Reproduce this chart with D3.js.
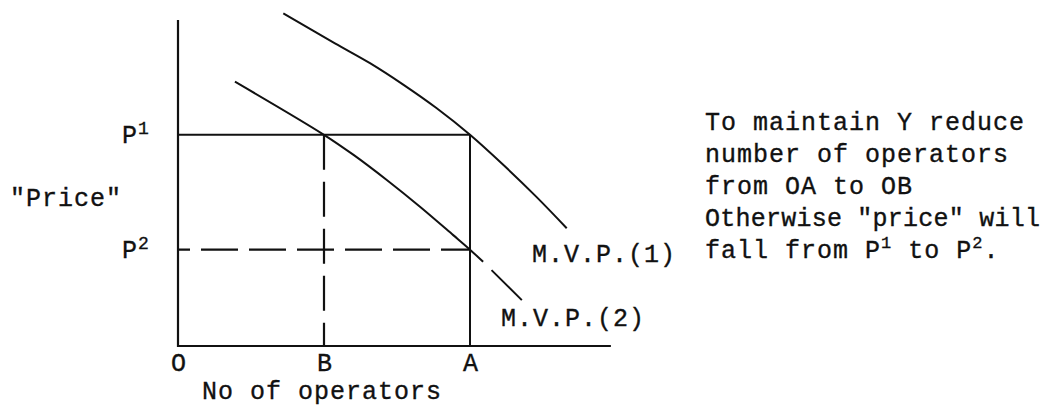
<!DOCTYPE html>
<html>
<head>
<meta charset="utf-8">
<script src="https://cdn.jsdelivr.net/npm/d3@7"></script>
<style>
  html, body { margin: 0; padding: 0; background: #fff; }
  svg { display: block; }
  text { font-family: "Liberation Mono", "Courier New", monospace; fill: #111; stroke: #111; stroke-width: 0.35px; }
</style>
</head>
<body>
<svg id="chart" width="1047" height="409"></svg>
<script>
// ---- data (abstract units) ----
const xTickLabels = ["O", "B", "A"];
const xTickValues = [0, 4, 8];
const xAxisMax = 11.86;
const yAxisMax = 9.88;
const priceLevels = [6.4, 2.92];
const priceSups = ["1", "2"];
const mvp1X = [2.885, 4.30, 5.26, 6.17, 7.08, 8.0, 8.91, 9.82, 10.65];
const mvp1Y = [10.08, 9.17, 8.57, 7.92, 7.21, 6.40, 5.49, 4.52, 3.57];
const mvp2X = [1.56, 4.0, 4.81, 5.72, 6.63, 7.54, 8.0, 8.36, 8.48, 8.59, 9.42];
const mvp2Y = [8.01, 6.4, 5.79, 5.03, 4.22, 3.36, 2.92, 2.55, null, 2.30, 1.39];
const noteLines = ["To maintain Y reduce", "number of operators", "from OA to OB", "Otherwise \"price\" will"];

const svg = d3.select("#chart");
const x = d3.scaleLinear().domain([0, 12]).range([178, 616]);
const y = d3.scaleLinear().domain([0, 10]).range([346, 16]);

const ink = "#111";
const g = svg.append("g");

// axes
g.append("line").attr("x1", x(0)).attr("x2", x(0)).attr("y1", y(0) + 1).attr("y2", y(yAxisMax))
  .attr("stroke", ink).attr("stroke-width", 2.2);
g.append("line").attr("x1", x(0) - 1).attr("x2", x(xAxisMax)).attr("y1", y(0)).attr("y2", y(0))
  .attr("stroke", ink).attr("stroke-width", 2.2);

// P1 solid horizontal to A, solid vertical at A
g.append("line").attr("x1", x(0)).attr("x2", x(xTickValues[2])).attr("y1", y(priceLevels[0])).attr("y2", y(priceLevels[0]))
  .attr("stroke", ink).attr("stroke-width", 2);
g.append("line").attr("x1", x(xTickValues[2])).attr("x2", x(xTickValues[2])).attr("y1", y(priceLevels[0])).attr("y2", y(0))
  .attr("stroke", ink).attr("stroke-width", 2);

// dashed: P2 horizontal to A, vertical at B
g.append("line").attr("x1", x(0)).attr("x2", x(xTickValues[2])).attr("y1", y(priceLevels[1])).attr("y2", y(priceLevels[1]))
  .attr("stroke", ink).attr("stroke-width", 2.2).attr("stroke-dasharray", "37,11").attr("stroke-dashoffset", 25);
g.append("line").attr("x1", x(xTickValues[1])).attr("x2", x(xTickValues[1])).attr("y1", y(priceLevels[0])).attr("y2", y(0))
  .attr("stroke", ink).attr("stroke-width", 2.2).attr("stroke-dasharray", "35,12");

// curves
const line = d3.line()
  .defined(d => d[1] !== null)
  .x(d => x(d[0])).y(d => y(d[1]))
  .curve(d3.curveCatmullRom.alpha(0.5));
g.append("path").datum(mvp1X.map((v, i) => [v, mvp1Y[i]]))
  .attr("d", line).attr("fill", "none").attr("stroke", ink).attr("stroke-width", 2);
g.append("path").datum(mvp2X.map((v, i) => [v, mvp2Y[i]]))
  .attr("d", line).attr("fill", "none").attr("stroke", ink).attr("stroke-width", 2);

// x axis tick labels via d3 axis
const xAxis = d3.axisBottom(x).tickValues(xTickValues)
  .tickFormat((d, i) => xTickLabels[i]).tickSize(0).tickPadding(0);
const ax = svg.append("g").attr("transform", `translate(0, ${y(0)})`).call(xAxis);
ax.select(".domain").remove();
ax.selectAll("text").attr("dy", null).attr("y", 25)
  .style("font-family", "Liberation Mono, Courier New, monospace")
  .style("font-size", "25px").attr("fill", ink);

const fs = 25;
const txt = (s, xx, yy) => svg.append("text").attr("x", xx).attr("y", yy)
  .attr("font-size", fs).attr("letter-spacing", 1).text(s);

txt("No of operators", 202, 399);
txt("\"Price\"", 10, 206);

// P labels
priceLevels.forEach((p, i) => {
  const t = svg.append("text").attr("x", 122).attr("y", y(p) + (i === 0 ? 8 : 8)).attr("font-size", fs);
  t.append("tspan").text("P");
  t.append("tspan").attr("font-size", 18).attr("dy", -9).attr("dx", 1).text(priceSups[i]);
});

txt("M.V.P.(1)", 532, 262);
txt("M.V.P.(2)", 501, 326);

// note block
noteLines.forEach((s, i) => {
  const t = txt(s, 705, 130 + i * 32);
  if (i === 3) t.attr("textLength", 336).attr("lengthAdjust", "spacing");
});
const last = svg.append("text").attr("x", 705).attr("y", 258).attr("font-size", fs).attr("letter-spacing", 1);
last.append("tspan").text("fall from P");
last.append("tspan").attr("font-size", 17).attr("dy", -10).text("1");
last.append("tspan").attr("dy", 10).text(" to P");
last.append("tspan").attr("font-size", 17).attr("dy", -10).text("2");
last.append("tspan").attr("dy", 10).text(".");
</script>
</body>
</html>
